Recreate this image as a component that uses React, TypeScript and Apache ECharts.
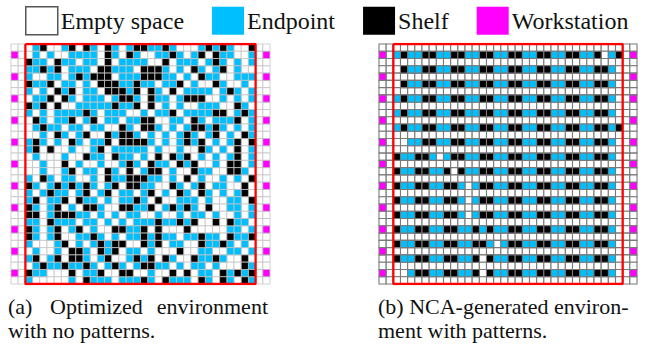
import React, { useEffect, useRef } from "react";
import * as echarts from "echarts";

const LEGEND_LABELS = ["Empty space", "Endpoint", "Shelf", "Workstation"];
const CELL_CODES = [".", "E", "K", "W"];
const CELL_COLORS = ["#ffffff", "#00bfff", "#000000", "#ff00ff"];
const N_ROWS = 33;
const N_COLS = 36;
const WORKSTATION_COLS = [0, 35];
const WORKSTATION_ROWS = [1, 4, 7, 10, 13, 16, 19, 22, 25, 28, 31];
const INNER_FIRST_COL = 2;
const RED_BOX_X = [2, 34];
const RED_BOX_Y = [0, 33];

// inner cells (columns 2..33), "." empty, "E" endpoint, "K" shelf
const LEFT_INNER = [
  ".EK..EK.KE.KE.E" + "KKEEKE...EKEKE..K",
  ".E.E..EEEE.KE.K" + "E..EEKE.EK.KEE..E",
  "KEE.KEE.EE.K.EE" + "EE..K.EEE.EKE.E.E",
  "EEKEK.EEE.KKEEE" + ".KKKE.E.KE.EK.E..",
  "E..EE.EKEKKK.EE" + "EKKKEE.E.KEE..EEE",
  "KEEK.EE.E.KKKEE" + "KEE.EEK.E..KE..E.",
  "E.E.KEK.EE.KKKE" + "K.KE.K.EEEE.EKE.E",
  ".EEK.KE.EEE.EKK" + "E.KEE.EKKK..E.E.E",
  "KEK.K..EEEEEKEE" + "K.K.E.E..EEE..KE.",
  "E.E.EEEEKE.EEE." + ".E.EEK.EEEEKK.EKE",
  ".KE.EEK.EK.EE.E" + "EKK..EE.KE.EEEK.E",
  ".EKEE.EE.EE..KE" + ".KKE.E.EKKEKE.E.E",
  "..E.KE.EK..KEKK" + "E.E.E.EKE.EK.E.KE",
  "EKE.E.KE.EEK.KK" + "KKE.E.EKEK.E.EK.K",
  "EK.K..E..EK.EEE" + "EE.E..E..KE.E.K.E",
  ".E...E..KEE.KEE" + ".E.K.KEK.E.E.EK.E",
  "..E..K.E..E..EK" + "E.KEE.KEK..E.KK.E",
  "..E..EK.EE.KE.K" + ".EKK.E..KEE..KKE.",
  "E.KE.EE..E.KEEK" + "KKEE.E.K.E..E.E.K",
  "KE.EKEKEKE.EK.K" + "KEE..KE.EK.EE..K.",
  "E.EKEE.EK.EK.EE" + ".EK.E.KE.KE.E.EK.",
  "EK.EEK.KEE.E.EE" + "KE.K..EEE.E..EE.K",
  "KE.EK.E.KKE..KK" + "EEK.EKEKE.K..EE.E",
  "KK.EKKKEE.E.E.E" + "E..E..E.EE.E..E.E",
  "EE.KEEE.EE.E.E." + "EEEKEEKEK..K.KEE.",
  "KE.EK.EK.E..KKE" + "EK.K...K.....EE.E",
  "KE.EK..EEKE.E.E" + "EKEKEE.EEKEE.KEEK",
  "E...EK.E.EKEKK." + ".KEK.EE..KEEKE.E.",
  ".E..E.KKE.KEK.E" + "E.E...K..EE..EE.E",
  "EK.EK.KKE.EK..E" + "KEK.KE..KEEKE..K.",
  ".EKEEKEEKE.EKE." + "EKKEE.E.EE.E...KE",
  "KEE...K.EEK..KK" + "..E..K.K.EE.KEKEK",
  "E.....E.KEEE.EE" + "EKE.KEEE.KE.KE.KE",
];

const RIGHT_INNER = [
  "................................",
  "EKEEKKEEKKEEKKEEKKEEKKEEKKEEK.EK",
  "................................",
  ".KEEKKEEKKEEKKEEKKEEKKEEKKEEKKE.",
  "................................",
  ".KEEKKEEKKEEKKEEKKEEKKEEKKEEKKE.",
  "................................",
  "EKEEKKEEKKEEKKEEKKEEKKEEKKEEKKE.",
  "................................",
  "EKEEKKEEKKEEKKEEKKEEKKEEKKEEKKE.",
  "................................",
  "EKEEKKEEKKEEKKEEKKEEKKEEKKEEKKEK",
  "................................",
  "..EEKKEEKKEEKKEEKKEEKKEEKKEEKKE.",
  "................................",
  "KEEKKE.EKKEEKKEEKKEEKKEEKKEEKKE.",
  "................................",
  "KEEKKEEK.KEEKKEEKKEEKKEEKKEEKKE.",
  "................................",
  "KEEKKEEKKE.EKKEEKKEEKKEEKKEEKKE.",
  "................................",
  "KEEKKEEKKE.EKKEEKKEEKKEEKKEEKKE.",
  "................................",
  "KEEKKEEKKE.EKKEEKKEEKKEEKKEEKKE.",
  "................................",
  "KEEKKEEKKEEKEKEEKKEEKKEEKKEEKKE.",
  "................................",
  "KEEKKEEKKEEKKE.EKKEEKKEEKKEEKKE.",
  "................................",
  "KEEKKEEKKEEK.KEEKKEEKKEEKKEEKKE.",
  "................................",
  "..EKKEEKKEEK.KEEKKEEKKEEKKEEKKE.",
  "................................",
];

const CAPTION_A_LINE1 = ["(a)", "Optimized", "environment"];
const CAPTION_A_LINE2 = "with no patterns.";
const CAPTION_B_LINE1 = "(b) NCA-generated environ-";
const CAPTION_B_LINE2 = "ment with patterns.";

const FONT = "Liberation Serif";

function buildCells(inner: string[]) {
  const out: number[][][] = [[], [], [], []];
  for (let r = 0; r < N_ROWS; r++) {
    for (let c = 0; c < N_COLS; c++) {
      let code = ".";
      if (WORKSTATION_COLS.includes(c)) {
        code = WORKSTATION_ROWS.includes(r) ? "W" : ".";
      } else if (c >= INNER_FIRST_COL && c - INNER_FIRST_COL < inner[r].length) {
        code = inner[r][c - INNER_FIRST_COL];
      }
      const t = Math.max(0, CELL_CODES.indexOf(code));
      out[t].push([c, r]);
    }
  }
  return out;
}

function makeRender(fill: string, stroke: string, lw: number) {
  return (params: any, api: any) => {
    const c = api.value(0);
    const r = api.value(1);
    const p0 = api.coord([c, r]);
    const p1 = api.coord([c + 1, r + 1]);
    return {
      type: "rect",
      shape: {
        x: Math.min(p0[0], p1[0]),
        y: Math.min(p0[1], p1[1]),
        width: Math.abs(p1[0] - p0[0]),
        height: Math.abs(p1[1] - p0[1]),
      },
      style: { fill, stroke, lineWidth: lw },
    };
  };
}

export default function App() {
  const ref = useRef<HTMLDivElement>(null);
  useEffect(() => {
    document.body.style.margin = "0";
    if (!ref.current) return;
    const chart = echarts.init(ref.current, undefined, { renderer: "svg" });
    const grids = [
      { left: 11, top: 44, width: 259, height: 240 },
      { left: 379, top: 44, width: 258, height: 240 },
    ];
    const strokes = [
      { color: "#c4c4c4", width: 0.8 },
      { color: "#7a7a7a", width: 1.1 },
    ];
    const inners = [LEFT_INNER, RIGHT_INNER];
    const series: any[] = [];
    inners.forEach((inner, g) => {
      const cells = buildCells(inner);
      cells.forEach((data, t) => {
        series.push({
          type: "custom",
          name: LEGEND_LABELS[t],
          xAxisIndex: g,
          yAxisIndex: g,
          itemStyle: { color: CELL_COLORS[t] },
          renderItem: makeRender(CELL_COLORS[t], strokes[g].color, strokes[g].width),
          data,
          silent: true,
          z: 2,
        });
      });
      series.push({
        type: "line",
        name: "box" + g,
        xAxisIndex: g,
        yAxisIndex: g,
        symbol: "none",
        lineStyle: { color: "#ff0000", width: 2.3 },
        data: [
          [RED_BOX_X[0], RED_BOX_Y[0]],
          [RED_BOX_X[1], RED_BOX_Y[0]],
          [RED_BOX_X[1], RED_BOX_Y[1]],
          [RED_BOX_X[0], RED_BOX_Y[1]],
          [RED_BOX_X[0], RED_BOX_Y[0]],
        ],
        z: 5,
        silent: true,
      });
    });

    const capStyle = { fontFamily: FONT, fontSize: 22, fill: "#111" };
    chart.setOption({
      animation: false,
      legend: {
        left: 25,
        top: 6,
        itemWidth: 32,
        itemHeight: 28,
        itemGap: 28,
        padding: 0,
        selectedMode: false,
        icon: "rect",
        textStyle: { fontFamily: FONT, fontSize: 24, color: "#111", padding: [0, 0, 0, -2] },
        data: LEGEND_LABELS.map((n, i) =>
          i === 0
            ? { name: n, itemStyle: { color: "#ffffff", borderColor: "#555", borderWidth: 1.5 } }
            : { name: n, itemStyle: { color: CELL_COLORS[i] } }
        ),
      },
      grid: grids.map((g) => ({ ...g, containLabel: false })),
      xAxis: grids.map((_, i) => ({ type: "value", gridIndex: i, min: 0, max: N_COLS, show: false })),
      yAxis: grids.map((_, i) => ({
        type: "value",
        gridIndex: i,
        min: 0,
        max: N_ROWS,
        inverse: true,
        show: false,
      })),
      series,
      graphic: [
        { type: "text", left: 8, top: 295, style: { ...capStyle, text: CAPTION_A_LINE1[0] } },
        { type: "text", left: 50, top: 295, style: { ...capStyle, text: CAPTION_A_LINE1[1] } },
        { type: "text", right: 381, top: 295, style: { ...capStyle, text: CAPTION_A_LINE1[2] } },
        { type: "text", left: 8, top: 319, style: { ...capStyle, text: CAPTION_A_LINE2 } },
        { type: "text", left: 378, top: 295, style: { ...capStyle, text: CAPTION_B_LINE1 } },
        { type: "text", left: 378, top: 319, style: { ...capStyle, text: CAPTION_B_LINE2 } },
      ],
    });
    return () => chart.dispose();
  }, []);
  return <div ref={ref} style={{ width: 649, height: 349 }} />;
}
